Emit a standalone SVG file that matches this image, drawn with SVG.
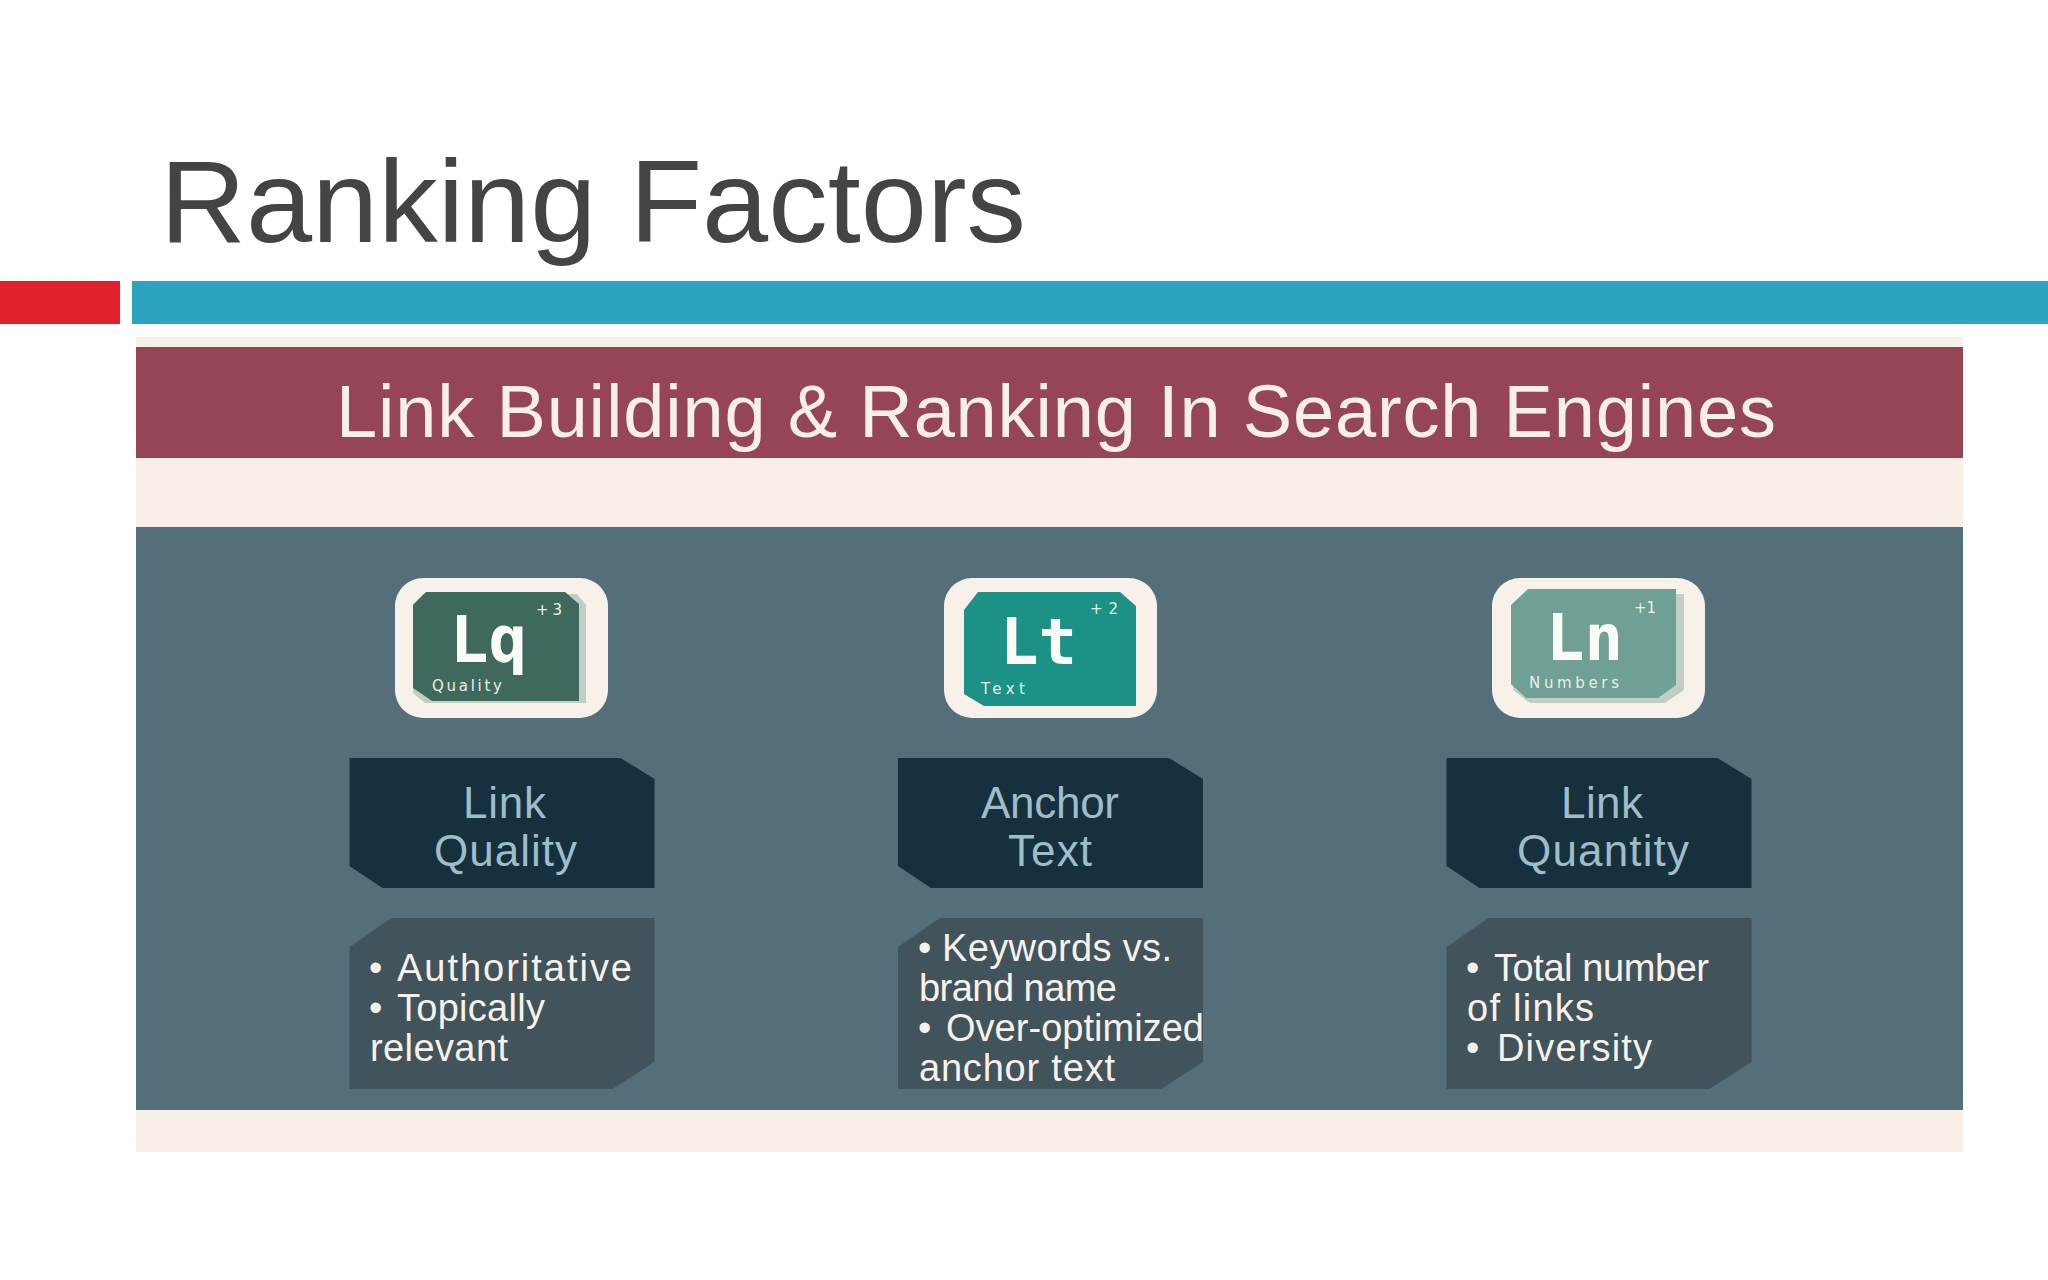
<svg xmlns="http://www.w3.org/2000/svg" width="2048" height="1280" viewBox="0 0 2048 1280">
<defs>
<filter id="soft" x="-5%" y="-5%" width="110%" height="110%"><feGaussianBlur stdDeviation="0.5"/></filter>
<path id="hd" d="M0 0H271L305 21V130H33L0 108Z"/>
<path id="bd" d="M42 0H305V144L263 171H0V29Z"/>
</defs>
<style>
text{font-family:"Liberation Sans",Arial,sans-serif}
.hd{fill:#16303d}.bd{fill:#41545c}
.ht{font-size:44px;fill:#9fbcc9;text-anchor:start}
.bt{font-size:38px;fill:#f8f1ea}
.sym{font-family:"DejaVu Sans Mono","Liberation Mono",monospace;font-size:64px;font-weight:bold;fill:#fbfbf8}
.sm{font-family:"DejaVu Sans",sans-serif;font-size:15px;fill:#e8efe9}
</style>
<rect width="2048" height="1280" fill="#fff"/>
<g id="title"><text x="160" y="242" font-size="116" fill="#444" textLength="866" lengthAdjust="spacingAndGlyphs">Ranking Factors</text></g>
<g id="bars"><rect y="281" width="120" height="43" fill="#e0202a"/><rect x="132" y="281" width="1916" height="43" fill="#2ca3c1"/></g>
<g id="panel">
<rect x="136" y="337" width="1827" height="815" fill="#f8efe8"/>
<rect x="136" y="347" width="1827" height="111" fill="#964557"/>
<rect x="136" y="527" width="1827" height="583" fill="#546f79"/>
<text x="336" y="437" font-size="74" fill="#f8efe8" textLength="1440" lengthAdjust="spacing">Link Building &amp; Ranking In Search Engines</text>
</g>
<g id="col1">
<rect x="395" y="578" width="213" height="140" rx="28" fill="#f8f1ea"/>
<g filter="url(#soft)"><path d="M423 594H577L586 605V703H425L413 693V604Z" fill="#c0cec8"/>
<path d="M426 592H565L579 604V701H432L413 688V605Z" fill="#41695d"/></g>
<text class="sym" x="450" y="662">Lq</text><text class="sm" x="536" y="615" textLength="26">+3</text><text class="sm" x="432" y="691" textLength="70">Quality</text>
<use href="#hd" x="349.500" y="758" class="hd"/>
<text class="ht" x="463" y="818" textLength="83">Link</text><text class="ht" x="434" y="866" textLength="143">Quality</text>
<use href="#bd" x="349.500" y="918" class="bd"/>
<g class="bt"><text x="369" y="981">•</text><text x="397" y="981" textLength="235">Authoritative</text><text x="369" y="1021">•</text><text x="397" y="1021" textLength="148">Topically</text><text x="370" y="1061" textLength="138">relevant</text></g>
</g>
<g id="col2">
<rect x="944" y="578" width="213" height="140" rx="28" fill="#f8f1ea"/>
<g filter="url(#soft)"><path d="M978 592H1120L1136 606V706H984L964 694V610Z" fill="#1f9186"/></g>
<text class="sym" x="1000" y="664">Lt</text><text class="sm" x="1090" y="614" textLength="28">+2</text><text class="sm" x="981" y="694" textLength="44">Text</text>
<use href="#hd" x="898" y="758" class="hd"/>
<text class="ht" x="981" y="818" textLength="138">Anchor</text><text class="ht" x="1008" y="866" textLength="84">Text</text>
<use href="#bd" x="898" y="918" class="bd"/>
<g class="bt"><text x="918" y="961">•</text><text x="942" y="961" textLength="230">Keywords vs.</text><text x="919" y="1001" textLength="198">brand name</text><text x="918" y="1041">•</text><text x="946" y="1041" textLength="258">Over-optimized</text><text x="919" y="1081" textLength="196">anchor text</text></g>
</g>
<g id="col3">
<rect x="1492" y="578" width="213" height="140" rx="28" fill="#f8f1ea"/>
<g filter="url(#soft)"><path d="M1532 594H1684V690L1665 703H1530L1513 690V610Z" fill="#c0cec8"/>
<path d="M1528 589H1676V685L1658 698H1526L1511 684V605Z" fill="#6f9f96"/></g>
<text class="sym" x="1546" y="660">Ln</text><text class="sm" x="1634" y="613" textLength="22">+1</text><text class="sm" x="1529" y="688" textLength="90">Numbers</text>
<use href="#hd" x="1446.500" y="758" class="hd"/>
<text class="ht" x="1561" y="818" textLength="82">Link</text><text class="ht" x="1517" y="866" textLength="172">Quantity</text>
<use href="#bd" x="1446.500" y="918" class="bd"/>
<g class="bt"><text x="1466" y="981">•</text><text x="1494" y="981" textLength="215">Total number</text><text x="1467" y="1021" textLength="127">of links</text><text x="1466" y="1061">•</text><text x="1497" y="1061" textLength="155">Diversity</text></g>
</g>
</svg>
